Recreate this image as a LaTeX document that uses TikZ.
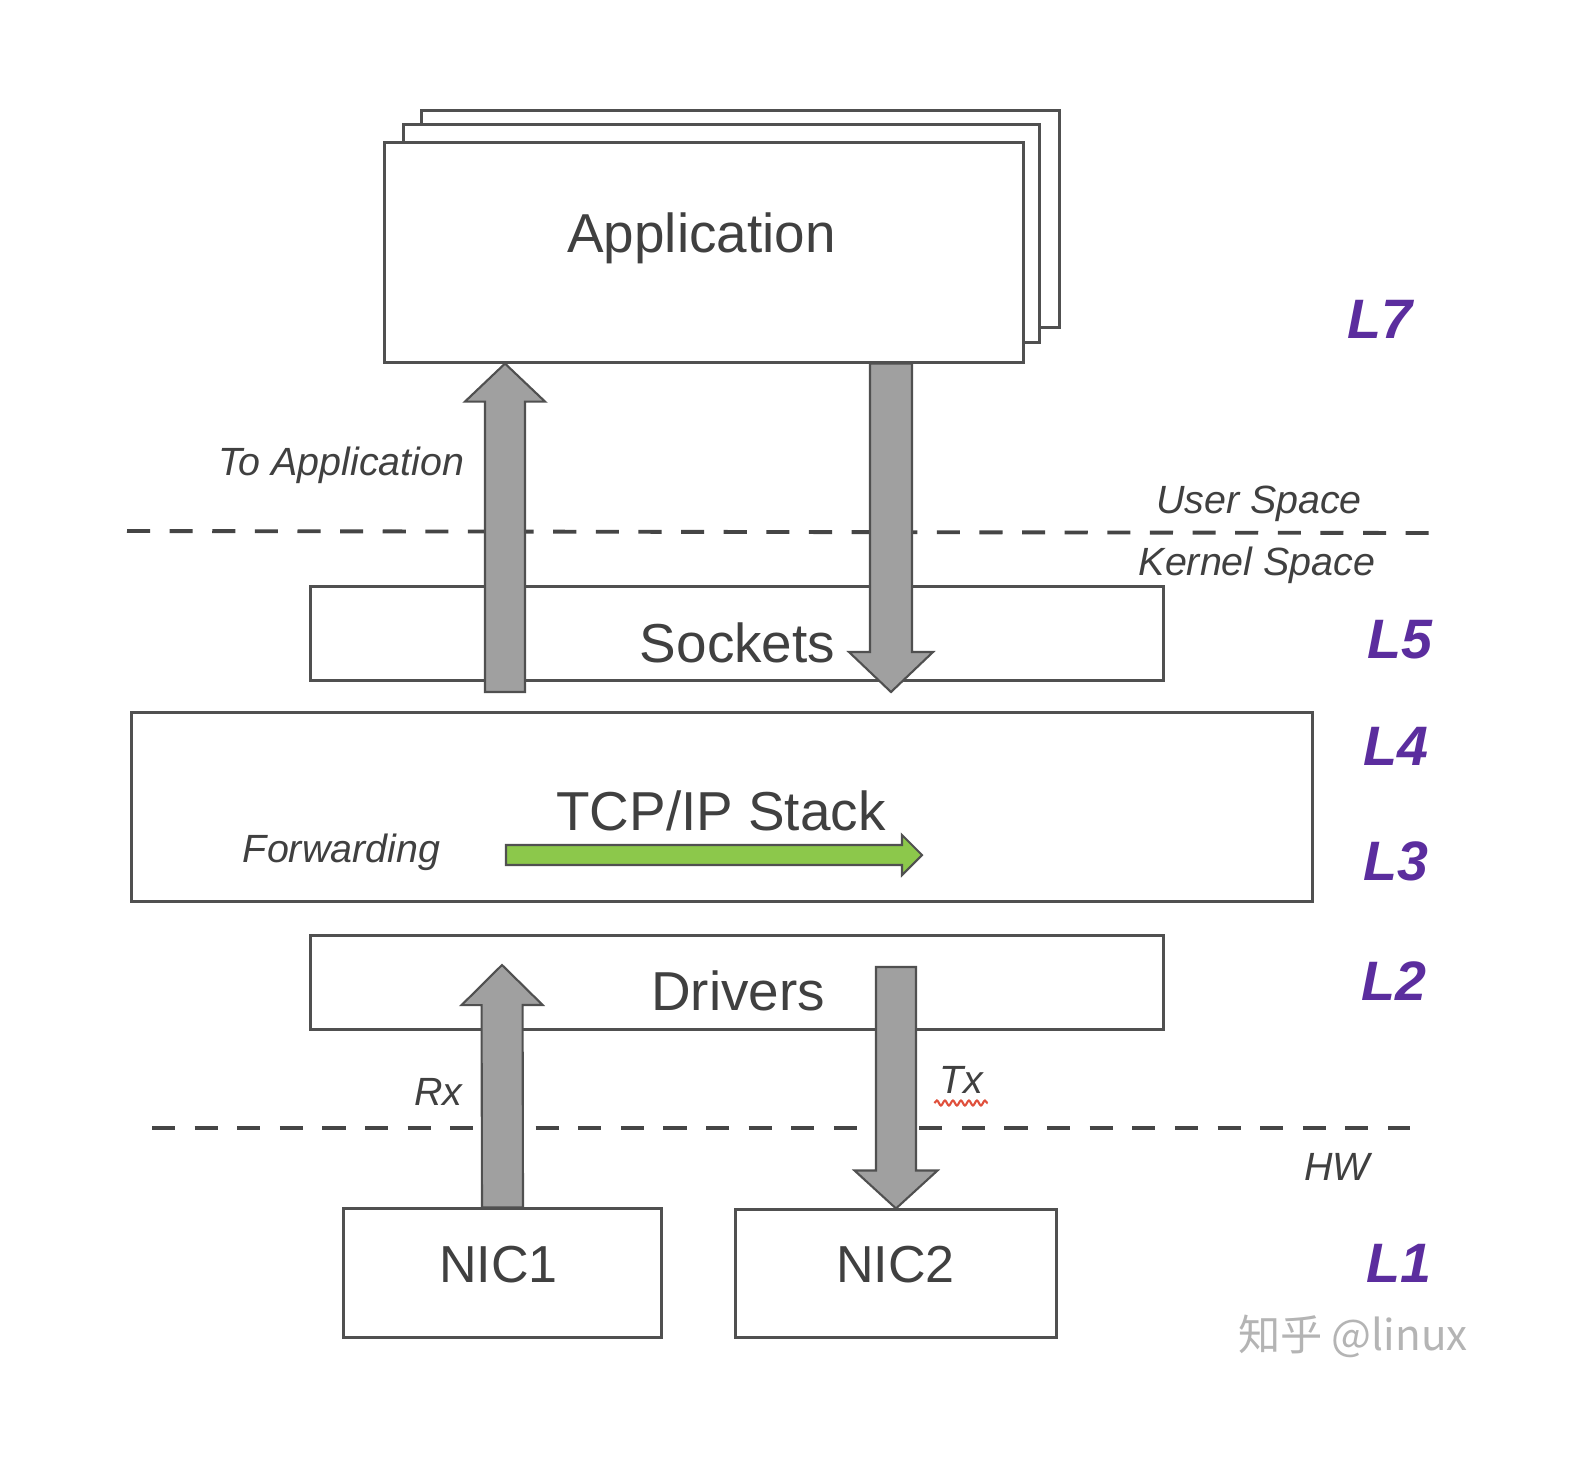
\documentclass[tikz,border=0pt]{standalone}
\usepackage{fontspec}
\setmainfont{Liberation Sans}
\newfontfamily\cjkfont{Noto Sans CJK SC}
\usetikzlibrary{calc,decorations.pathmorphing}
\definecolor{linegray}{HTML}{505050}
\definecolor{textgray}{HTML}{404040}
\definecolor{dashgray}{HTML}{454545}
\definecolor{arrowgray}{HTML}{A0A0A0}
\definecolor{fwdgreen}{HTML}{8CC84B}
\definecolor{layerpurple}{HTML}{5B2D9E}
\definecolor{markgray}{HTML}{B4B4B4}
\definecolor{squiggle}{HTML}{E0503C}
\def\blockarrow[#1](#2)(#3)(#4:#5:#6){\coordinate (ba-base) at ($(#3)!#6!(#2)$);
	\draw[#1] ($(#2)!#4!90:(#3)$) -- ($(ba-base)!#4!90:(#3)$) -- ($(ba-base)!#5!90:(#3)$) -- (#3) -- ($(ba-base)!#5!-90:(#3)$) -- ($(ba-base)!#4!-90:(#3)$) -- ($(#2)!#4!-90:(#3)$) -- cycle;}
\tikzset{
	layerbox/.style={draw=linegray, line width=0.85pt, fill=white, inner sep=0pt},
	boxlabel/.style={text=textgray, inner sep=0pt, anchor=base, font=\fontsize{15.6}{18}\selectfont},
	sidelabel/.style={text=textgray, inner sep=0pt, anchor=base, font=\fontsize{11.2}{13}\selectfont\itshape},
	layertag/.style={text=layerpurple, inner sep=0pt, anchor=base, font=\fontsize{15.8}{18}\selectfont\bfseries\itshape},
	spaceline/.style={draw=dashgray, line width=1.1pt, dash pattern=on 0.23cm off 0.196cm},
	grayarrow/.style={fill=arrowgray, draw=linegray, line width=0.6pt},
	greenarrow/.style={fill=fwdgreen, draw=linegray, line width=0.6pt},
}
\begin{document}
\begin{tikzpicture}[x=0.01cm, y=-0.01cm]
			%%%%% START %%%%%
			
			\fill[white] (0,0) rectangle (1578,1472);
			\useasboundingbox (0,0) rectangle (1578,1472);
			
			% application stack
			\node[layerbox, minimum width=6.37cm, minimum height=2.16cm] (app3) at (740.5,219) {};
			\node[layerbox, minimum width=6.35cm, minimum height=2.17cm] (app2) at (721.5,233.5) {};
			\node[layerbox, minimum width=6.38cm, minimum height=2.19cm] (app) at (704,252.5) {};
			\node[boxlabel] (apptext) at (701.5,252) {Application};
			
			% kernel layers
			\node[layerbox, minimum width=8.52cm, minimum height=0.93cm] (sock) at (737,633.5) {};
			\node[boxlabel] (socktext) at (737.5,662) {Sockets};
			
			\node[layerbox, minimum width=11.80cm, minimum height=1.88cm] (tcpip) at (722,807) {};
			\node[boxlabel] (tcpiptext) at (721,830) {TCP/IP Stack};
			\node[sidelabel] (fwd) at (341.5,862) {Forwarding};
			
			\node[layerbox, minimum width=8.52cm, minimum height=0.93cm] (drv) at (737,982.5) {};
			\node[boxlabel] (drvtext) at (738,1010) {Drivers};
			
			% hardware
			\node[layerbox, minimum width=3.17cm, minimum height=1.28cm] (nic1) at (502.5,1273) {};
			\node[boxlabel, font=\fontsize{14.8}{18}\selectfont] (nic1text) at (498.5,1282) {NIC1};
			\node[layerbox, minimum width=3.20cm, minimum height=1.27cm] (nic2) at (896,1273.5) {};
			\node[boxlabel, font=\fontsize{14.8}{18}\selectfont] (nic2text) at (895.5,1282) {NIC2};
			
			% space borders
			\draw[spaceline] (127,531) -- (1429,533);
			\node[sidelabel] (user) at (1259,513) {User Space};
			\node[sidelabel] (kernel) at (1257,575) {Kernel Space};
			\draw[spaceline] (152,1128) -- (1410,1128);
			\node[sidelabel] (hw) at (1337,1180) {HW};
			
			% arrows
			\coordinate (toapp) at (505,692);
			\coordinate (tosock) at (891,692);
			\coordinate (rx-tip) at (502,965);
			\coordinate (tx-top) at (896,967);
			\coordinate (fwd-start) at (506,855);
			\coordinate (fwd-end) at (922,855);
			
			\blockarrow[grayarrow](toapp)(app.south -| toapp)(0.2cm:0.4cm:0.38cm);
			\blockarrow[grayarrow](app.south -| tosock)(tosock)(0.21cm:0.42cm:0.4cm);
			\blockarrow[grayarrow](nic1.north)(rx-tip)(0.205cm:0.405cm:0.4cm);
			\blockarrow[grayarrow](tx-top)(nic2.north)(0.2cm:0.415cm:0.38cm);
			\blockarrow[greenarrow](fwd-start)(fwd-end)(0.1cm:0.2cm:0.2cm);
			
			\node[sidelabel, anchor=base east] (toapptext) at (465,475) {To Application};
			\node[sidelabel] (rx) at (438.5,1105) {Rx};
			\node[sidelabel] (tx) at (961,1093) {Tx};
			\draw[squiggle, line width=0.6pt, decorate, decoration={snake, amplitude=0.025cm, segment length=0.08cm}] ($(tx.base west)+(-4,10)$) -- ($(tx.base east)+(4,10)$);
			
			% layer tags
			\node[layertag] (l7) at (1379.5,338) {L7};
			\node[layertag] (l5) at (1400,658) {L5};
			\node[layertag] (l4) at (1396,765) {L4};
			\node[layertag] (l3) at (1396,880) {L3};
			\node[layertag] (l2) at (1393.5,1000) {L2};
			\node[layertag] (l1) at (1399,1282) {L1};
			
			\node[text=markgray, inner sep=0pt, anchor=base, font=\fontsize{12}{14}\selectfont\cjkfont] (mark) at (1353,1350) {知乎 @linux};
			
			%%%%% END %%%%%
\end{tikzpicture}
\end{document}
